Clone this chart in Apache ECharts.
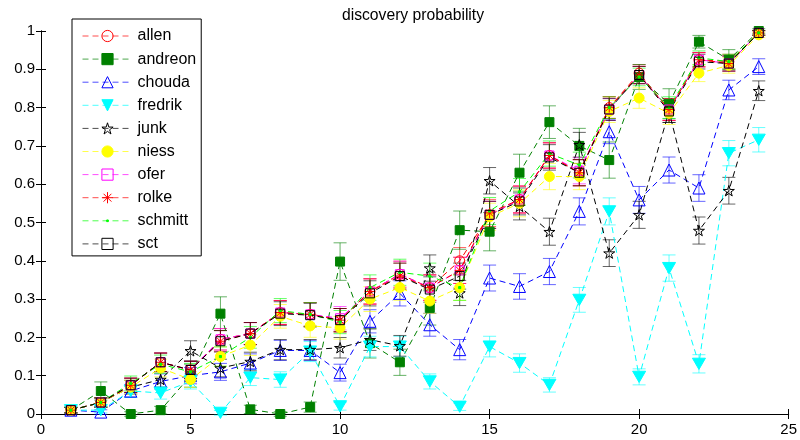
<!DOCTYPE html>
<html><head><meta charset="utf-8">
<script src="https://cdn.jsdelivr.net/npm/echarts@6/dist/echarts.min.js"></script>
<style>html,body{margin:0;padding:0;background:#fff}#c{width:800px;height:440px}</style>
</head><body><div id="c"></div>
<script>
const xValues = [1,2,3,4,5,6,7,8,9,10,11,12,13,14,15,16,17,18,19,20,21,22,23,24];
const allen   = [0.01,0.03,0.075,0.135,0.115,0.195,0.21,0.265,0.26,0.245,0.32,0.365,0.33,0.40,0.52,0.56,0.675,0.63,0.80,0.89,0.795,0.925,0.92,0.995];
const andreon = [0.01,0.06,0.0,0.01,0.10,0.262,0.012,0.0,0.018,0.398,0.185,0.135,0.277,0.48,0.476,0.63,0.762,0.70,0.663,0.88,0.81,0.972,0.925,1.0];
const chouda  = [0.01,0.005,0.06,0.085,0.10,0.11,0.133,0.166,0.166,0.108,0.242,0.315,0.233,0.168,0.355,0.333,0.372,0.529,0.737,0.559,0.637,0.59,0.846,0.907];
const fredrik = [0.01,0.01,0.06,0.055,0.085,0.003,0.095,0.09,0.163,0.02,0.176,0.176,0.085,0.019,0.176,0.133,0.076,0.298,0.529,0.097,0.381,0.131,0.681,0.716];
const junk    = [0.01,0.03,0.07,0.09,0.165,0.12,0.137,0.168,0.168,0.173,0.194,0.178,0.381,0.316,0.609,0.542,0.476,0.703,0.42,0.52,0.79,0.479,0.583,0.844];
const niess   = [0.01,0.03,0.07,0.12,0.09,0.15,0.18,0.255,0.23,0.225,0.30,0.33,0.295,0.33,0.515,0.55,0.62,0.62,0.79,0.825,0.785,0.89,0.91,0.99];
const ofer    = [0.01,0.03,0.075,0.135,0.115,0.195,0.21,0.265,0.26,0.25,0.32,0.365,0.33,0.375,0.52,0.56,0.675,0.635,0.795,0.885,0.795,0.925,0.915,0.995];
const rolke   = [0.01,0.03,0.075,0.135,0.115,0.19,0.21,0.265,0.26,0.245,0.32,0.36,0.33,0.375,0.525,0.56,0.675,0.63,0.80,0.885,0.795,0.925,0.915,0.995];
const schmitt = [0.01,0.03,0.08,0.13,0.11,0.15,0.20,0.27,0.26,0.24,0.33,0.37,0.36,0.33,0.53,0.58,0.68,0.65,0.80,0.88,0.80,0.93,0.92,0.995];
const sct     = [0.01,0.03,0.075,0.135,0.115,0.19,0.21,0.262,0.258,0.245,0.315,0.36,0.325,0.36,0.52,0.555,0.67,0.63,0.795,0.885,0.79,0.92,0.915,0.995];
// trials per point (sets error-bar size, binomial)
const trials = {allen:200, andreon:100, chouda:200, fredrik:200, junk:200, niess:200, ofer:200, rolke:200, schmitt:200, sct:200};
const seriesNames = ['allen','andreon','chouda','fredrik','junk','niess','ofer','rolke','schmitt','sct'];
const seriesValues = {allen, andreon, chouda, fredrik, junk, niess, ofer, rolke, schmitt, sct};
const xTicks = {min:0, max:25, step:5};
const yTicks = {min:0, max:1, step:0.1};

const FONT = 'Liberation Sans, Arial, Helvetica, sans-serif';
const STAR = 'path://M10,0L12.25,6.91L19.51,6.91L13.63,11.18L15.88,18.09L10,13.82L4.12,18.09L6.37,11.18L0.49,6.91L7.75,6.91Z';
const ASTER = 'path://M5,0L5,10M0,5L10,5M1.5,1.5L8.5,8.5M8.5,1.5L1.5,8.5';
const DOT = 'path://M0,0M20,20M8.5,8.5L11.5,8.5L11.5,11.5L8.5,11.5Z';
const DOWN = 'path://M0,0L10,0L5,8.66Z';
const styles = {
  allen:  {color:'#ff0000', symbol:'circle', size:10, fill:'transparent'},
  andreon:{color:'#008000', symbol:'rect', size:9, fill:'#008000'},
  chouda: {color:'#0000ff', symbol:'triangle', size:12, fill:'transparent'},
  fredrik:{color:'#00ffff', symbol:DOWN, size:13, fill:'#00ffff'},
  junk:   {color:'#000000', symbol:STAR, size:11, fill:'transparent'},
  niess:  {color:'#ffff00', symbol:'circle', size:10, fill:'#ffff00'},
  ofer:   {color:'#ff00ff', symbol:'rect', size:9, fill:'transparent'},
  rolke:  {color:'#ff0000', symbol:ASTER, size:10, fill:'transparent'},
  schmitt:{color:'#00ff00', symbol:DOT, size:14, fill:'#00ff00'},
  sct:    {color:'#000000', symbol:'rect', size:9, fill:'transparent'}
};

const series = [];
seriesNames.forEach(name => {
  const st = styles[name];
  const vals = seriesValues[name];
  const n = trials[name];
  const errData = xValues.map((x, i) => {
    const p = vals[i];
    const e = Math.max(Math.sqrt(p * (1 - p) / n), 0.006);
    return [x, p, p - e, p + e];
  });
  series.push({
    name: name + '_err', type: 'custom', silent: true,
    data: errData, encode: {x: 0, y: [2, 3]},
    renderItem: (params, api) => {
      const x = api.value(0);
      const top = api.coord([x, api.value(3)]);
      const bot = api.coord([x, api.value(2)]);
      const w = 6.5;
      const style = {stroke: st.color, lineWidth: 1, opacity: 0.6};
      return {type: 'group', children: [
        {type: 'line', shape: {x1: top[0], y1: top[1], x2: bot[0], y2: bot[1]}, style},
        {type: 'line', shape: {x1: top[0] - w, y1: top[1], x2: top[0] + w, y2: top[1]}, style},
        {type: 'line', shape: {x1: bot[0] - w, y1: bot[1], x2: bot[0] + w, y2: bot[1]}, style}
      ]};
    }
  });
  series.push({
    name: name, type: 'line',
    data: xValues.map((x, i) => [x, vals[i]]),
    symbol: st.symbol, symbolSize: st.size, symbolKeepAspect: true,
    showAllSymbol: true,
    lineStyle: {color: st.color, width: 1, type: [6, 4]},
    itemStyle: {color: st.fill, borderColor: st.color, borderWidth: 1},
    emphasis: {disabled: true},
    animation: false
  });
});

const axisCommon = {
  axisLine: {show: true, lineStyle: {color: '#000', width: 1}},
  axisTick: {show: true, inside: true, length: 5, lineStyle: {color: '#000'}},
  splitLine: {show: false}
};
const option = {
  animation: false,
  backgroundColor: '#fff',
  title: {
    text: 'discovery probability', left: 408, top: 3, textAlign: 'center',
    textStyle: {fontFamily: FONT, fontSize: 15.7, fontWeight: 'normal', color: '#000'}
  },
  grid: {left: 41, right: 9, top: 31, bottom: 26, containLabel: false},
  legend: {
    data: seriesNames, orient: 'vertical', left: 72, top: 19,
    itemWidth: 50, itemHeight: 14, itemGap: 7.1,
    padding: [9, 5, 4, 10],
    backgroundColor: '#fff', borderColor: '#000', borderWidth: 1,
    textStyle: {fontFamily: FONT, fontSize: 16, color: '#000', lineHeight: 14},
    itemStyle: {borderWidth: 1},
    lineStyle: {width: 1, opacity: 0.7},
    selectedMode: false
  },
  xAxis: [
    Object.assign({type: 'value', min: xTicks.min, max: xTicks.max, interval: xTicks.step, position: 'bottom',
      axisLabel: {color: '#000', fontSize: 15, fontFamily: FONT, margin: 8}}, axisCommon),
    Object.assign({type: 'value', min: xTicks.min, max: xTicks.max, interval: xTicks.step, position: 'top',
      axisLabel: {show: false}}, axisCommon)
  ],
  yAxis: [
    Object.assign({type: 'value', min: yTicks.min, max: yTicks.max, interval: yTicks.step, position: 'left',
      axisLabel: {color: '#000', fontSize: 15, fontFamily: FONT, margin: 6,
        formatter: v => String(+(+v).toFixed(1))}}, axisCommon),
    Object.assign({type: 'value', min: yTicks.min, max: yTicks.max, interval: yTicks.step, position: 'right',
      axisLabel: {show: false}}, axisCommon)
  ],
  series
};
const chart = echarts.init(document.getElementById('c'), null, {renderer: 'canvas'});
chart.setOption(option);
</script>
</body></html>
